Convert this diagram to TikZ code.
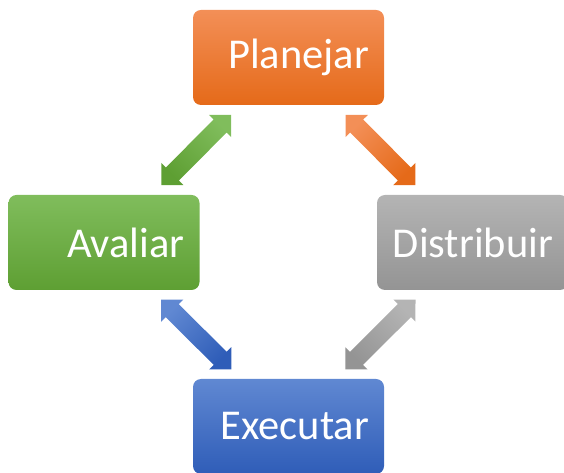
\documentclass[tikz,border=0pt]{standalone}
\usepackage{fontspec}
\setmainfont{Carlito}
\usetikzlibrary{shapes.arrows}

\definecolor{orangetop}{HTML}{F38F57}
\definecolor{orangebot}{HTML}{E56A19}
\definecolor{graytop}{HTML}{B4B4B4}
\definecolor{graybot}{HTML}{949494}
\definecolor{greentop}{HTML}{80BD5C}
\definecolor{greenbot}{HTML}{5E9F33}
\definecolor{bluetop}{HTML}{6088D2}
\definecolor{bluebot}{HTML}{2F5DB8}

\tikzset{
  stage/.style 2 args={rounded corners=8pt, top color=#1, bottom color=#2,
    minimum width=191pt, minimum height=95pt, text width=161pt, inner xsep=15pt,
    align=right, text=white, font=\fontsize{42.5pt}{50pt}\selectfont},
  link/.style 2 args={double arrow, double arrow tip angle=90,
    double arrow head extend=6.5pt, minimum width=31pt, minimum height=99pt,
    inner xsep=0pt, inner ysep=9pt, sloped, midway, top color=#1, bottom color=#2}
}

\begin{document}
\begin{tikzpicture}[x=1pt,y=1pt]
\clip (0,0) rectangle (564,473);
\node [stage={orangetop}{orangebot}] (pl) at (288.5,415.5) {Planejar};
\node [stage={graytop}{graybot}]     (di) at (472.5,230.5) {Distribuir};
\node [stage={greentop}{greenbot}]   (av) at (104,230.5)   {Avaliar};
\node [stage={bluetop}{bluebot}]     (ex) at (288.5,46.5)  {Executar};
% arrows between the stages
\path (av) -- (pl) node [link={greentop}{greenbot}, shading angle=-45] (avpl) {};
\path (pl) -- (di) node [link={orangetop}{orangebot}, shading angle=45] (pldi) {};
\path (av) -- (ex) node [link={bluetop}{bluebot}, shading angle=45] (avex) {};
\path (ex) -- (di) node [link={graytop}{graybot}, shading angle=-45] (exdi) {};
\end{tikzpicture}
\end{document}
